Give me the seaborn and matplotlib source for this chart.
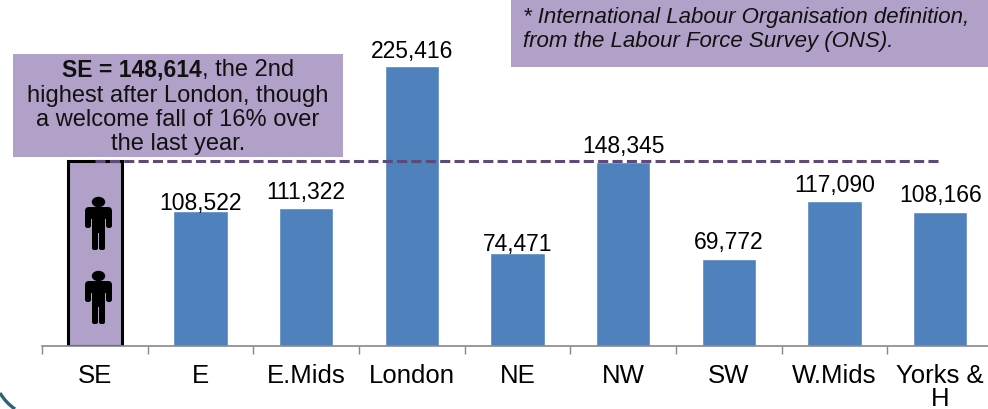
import matplotlib
matplotlib.use('Agg')
import matplotlib.pyplot as plt
import seaborn as sns
from matplotlib.patches import Rectangle, Ellipse, FancyBboxPatch, PathPatch
from matplotlib.path import Path
from matplotlib.transforms import Affine2D

# Values
regions = ["SE", "E", "E.Mids", "London", "NE", "NW", "SW", "W.Mids", "Yorks &\nH"]
unemployed = [148614, 108522, 111322, 225416, 74471, 148345, 69772, 117090, 108166]
value_labels = ["", "108,522", "111,322", "225,416", "74,471", "148,345", "69,772", "117,090", "108,166"]
# how far above the bar each label sits, in points
label_gaps = [0, -3, 2.5, 2, -1.5, 3, 3.5, 2.5, 3.5]

note_lines = ["highest after London, though", "a welcome fall of 16% over", "the last year."]
source_lines = ["* International Labour Organisation definition,", "from the Labour Force Survey (ONS)."]

BLUE = "#4F81BD"
LILAC = "#B1A0C7"
DASH = "#5F497A"
W, H = 988, 409

sns.set_theme(style="white")
plt.rcParams['font.family'] = ['Liberation Sans', 'DejaVu Sans']

fig = plt.figure(figsize=(W / 100, H / 100), dpi=100)
ax = fig.add_axes([42 / W, (H - 346) / H, 951 / W, 346 / H])
ax.patch.set_alpha(0)

sns.barplot(x=regions, y=unemployed, color=BLUE, saturation=1, width=0.515, ax=ax)
ax.set_xlim(-0.5, 8.5)
ax.set_ylim(0, 225416 * 346 / 280)

# SE bar gets the outlined lilac look
se_bar = ax.patches[0]
se_bar.set_facecolor(LILAC)
se_bar.set_edgecolor("black")
se_bar.set_linewidth(2.2)

ax.plot([0, 8], [unemployed[0], unemployed[0]], color=DASH, lw=2.2, dashes=(3.3, 1.4), zorder=5)

for i, lab in enumerate(value_labels):
    if lab:
        ax.annotate(lab, (i, unemployed[i]), xytext=(0, label_gaps[i]), textcoords="offset points",
                    ha="center", va="bottom", fontsize=16.5, color="black", annotation_clip=False)

for s in ["top", "left", "right"]:
    ax.spines[s].set_visible(False)
ax.spines["bottom"].set_color("#888888")
ax.spines["bottom"].set_linewidth(1.2)
ax.set_yticks([])
ax.set_xticks(range(9))
ax.set_xticklabels(regions, fontsize=18.5, color="black", linespacing=0.95)
ax.set_xticks([i - 0.5 for i in range(10)], minor=True)
ax.tick_params(axis="x", which="major", length=0, pad=13)
ax.tick_params(axis="x", which="minor", length=5.5, width=1, color="#888888", bottom=True)

# overlay drawn in picture pixels, y going down
px = Affine2D().scale(1, -1).translate(0, H)


def text_px(x, y, s, **kw):
    fig.text(x, y, s, transform=px, va="center", color="#111111", **kw)


def person(cx, top):
    # shoulders, arms, torso, legs
    parts = [(-13.5, 9, 27, 12, 4), (-13.5, 12, 6, 18, 2.5), (7.5, 12, 6, 18, 2.5),
             (-6.5, 9, 13, 26, 1), (-6.5, 30, 6, 22, 2), (0.5, 30, 6, 22, 2)]
    fig.add_artist(Ellipse((cx, top + 4), 12, 9, color="black", transform=px))
    for x0, y0, w, h, r in parts:
        fig.add_artist(FancyBboxPatch((cx + x0 + r, top + y0 + r), w - 2 * r, h - 2 * r,
                                      boxstyle=f"round,pad={r}", fc="black", ec="none", transform=px))


fig.add_artist(Rectangle((13, 54), 330, 103, fc=LILAC, ec="none", transform=px))
fig.add_artist(Rectangle((511, 0), 477, 67, fc=LILAC, ec="none", transform=px))

text_px(202, 70, "SE = 148,614", ha="right", fontsize=16.5, fontweight="bold")
text_px(202, 70, ", the 2nd", ha="left", fontsize=17)
for y, line in zip([96, 120, 144], note_lines):
    text_px(178, y, line, ha="center", fontsize=17)
for y, line in zip([18, 41], source_lines):
    text_px(523, y, line, ha="left", fontsize=16, fontstyle="italic")

person(98.5, 198)
person(98.5, 272)

# corner of the slide template
fig.add_artist(PathPatch(Path([(0, 393), (6, 403), (15, 409)], [Path.MOVETO, Path.CURVE3, Path.CURVE3]),
                         fc="none", ec="#2A6478", lw=2.4, transform=px))

fig.savefig("out.png", dpi=100)
